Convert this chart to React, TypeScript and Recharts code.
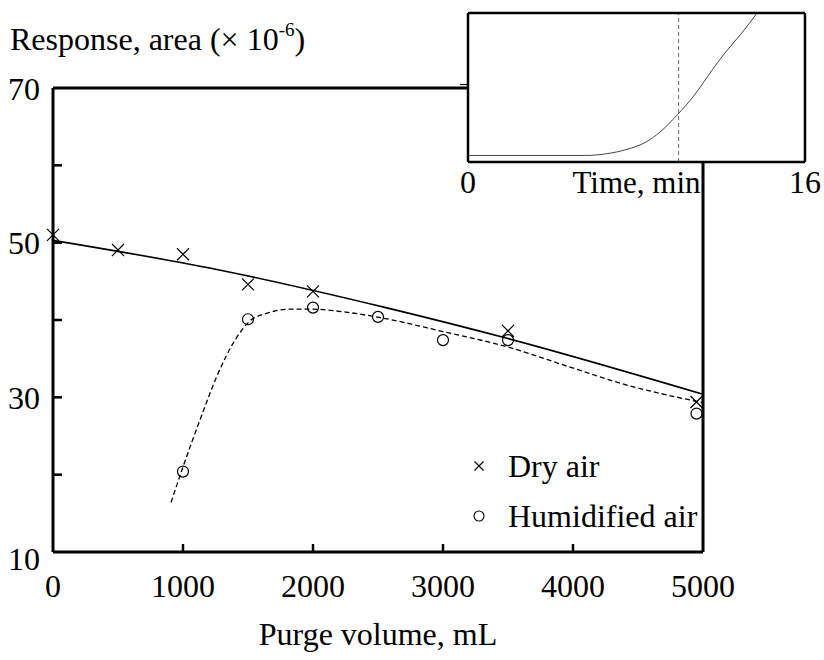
import React from 'react';
import {
  ComposedChart, LineChart, Line, Scatter, XAxis, YAxis, Legend, CartesianGrid, ReferenceLine,
} from 'recharts';

// ---- Main chart data ----
const dryVolume = [0, 500, 1000, 1500, 2000, 3500, 4950];
const dryResponse = [51.0, 49.05, 48.5, 44.6, 43.7, 38.6, 29.4];
const humidVolume = [1000, 1500, 2000, 2500, 3000, 3500, 4950];
const humidResponse = [20.4, 40.1, 41.6, 40.4, 37.4, 37.4, 27.9];
const dryFitVolume = [0, 1270, 2560, 3500, 5000];
const dryFitResponse = [50.3, 46.5, 41.6, 37.6, 30.4];
const humidFitVolume = [908, 1000, 1140, 1270, 1400, 1510, 1650, 1830, 2000, 2160, 2520, 3000, 3500, 3960, 4370, 5000];
const humidFitResponse = [16.4, 21.0, 27.5, 33.1, 37.4, 39.8, 40.9, 41.4, 41.4, 41.2, 40.3, 38.5, 36.5, 34.0, 31.8, 29.3];
const xTicks = [0, 1000, 2000, 3000, 4000, 5000];
const yTicks = [10, 20, 30, 40, 50, 60, 70];
const yTickLabels = [10, 30, 50, 70];

// ---- Inset data ----
const insetTime = [0, 5.6, 6.6, 7.5, 8.5, 9.1, 9.94, 10.7, 11.6, 12.2, 13.0, 13.7];
const insetSignal = [4.4, 4.4, 5.6, 8.3, 13.8, 19.9, 31.7, 44.0, 61.9, 73.2, 86.6, 99.5];
const insetTicks = [0, 16];
const insetMarkTime = 10;
const insetYTick = [52];

const dryData = dryVolume.map((x, i) => ({ x, y: dryResponse[i] }));
const humidData = humidVolume.map((x, i) => ({ x, y: humidResponse[i] }));
const dryFitData = dryFitVolume.map((x, i) => ({ x, y: dryFitResponse[i] }));
const humidFitData = humidFitVolume.map((x, i) => ({ x, y: humidFitResponse[i] }));
const insetData = insetTime.map((x, i) => ({ x, y: insetSignal[i] }));

const FONT = '"Liberation Serif", "Times New Roman", serif';
const FS = 32;

function YTick(props: any) {
  const { x, y, payload } = props;
  const v = payload.value;
  const showLine = v !== 10 && v !== 70;
  const showLabel = yTickLabels.includes(v);
  return (
    <g>
      {showLine && <line x1={x} x2={x + 9} y1={y} y2={y} stroke="#000" strokeWidth={2.5} />}
      {showLabel && (
        <text x={x - 13} y={y + (v === 10 ? 6 : 0)} dy="0.36em" textAnchor="end" fontFamily={FONT} fontSize={FS} fill="#000">
          {v}
        </text>
      )}
    </g>
  );
}

function XTick(props: any) {
  const { x, y, payload } = props;
  const v = payload.value;
  const showLine = v !== 0 && v !== 5000;
  return (
    <g>
      {showLine && <line x1={x} x2={x} y1={y} y2={y - 8} stroke="#000" strokeWidth={2.5} />}
      <text x={x} y={y + 45} textAnchor="middle" fontFamily={FONT} fontSize={FS} fill="#000">{v}</text>
    </g>
  );
}

function InsetXTick(props: any) {
  const { x, y, payload } = props;
  return (
    <text x={x} y={y + 31} textAnchor="middle" fontFamily={FONT} fontSize={FS} fill="#000">{payload.value}</text>
  );
}

function EmptyTick() {
  return <g />;
}

function CrossShape(props: any) {
  const { cx, cy } = props;
  const s = 6;
  return (
    <path d={`M${cx - s},${cy - s}L${cx + s},${cy + s}M${cx - s},${cy + s}L${cx + s},${cy - s}`} stroke="#000" strokeWidth={1.2} fill="none" />
  );
}

function CircleShape(props: any) {
  const { cx, cy } = props;
  return <circle cx={cx} cy={cy} r={5.5} stroke="#000" strokeWidth={1.2} fill="none" />;
}

function YTitle() {
  return (
    <text x={10} y={50} fontFamily={FONT} fontSize={FS} fill="#000">
      Response, area (× 10
      <tspan dy={-14} fontSize={19}>-6</tspan>
      <tspan dy={14}>)</tspan>
    </text>
  );
}

function LegendContent() {
  const row: React.CSSProperties = { display: 'flex', alignItems: 'center', height: 50 };
  const txt: React.CSSProperties = { fontFamily: FONT, fontSize: FS, color: '#000', whiteSpace: 'nowrap' };
  return (
    <div>
      <div style={row}>
        <svg width={43} height={50}>
          <path d="M9.5,20.5L18.5,29.5M9.5,29.5L18.5,20.5" stroke="#000" strokeWidth={1.1} fill="none" />
        </svg>
        <span style={txt}>Dry air</span>
      </div>
      <div style={row}>
        <svg width={43} height={50}>
          <circle cx={14} cy={25} r={5} stroke="#000" strokeWidth={1.1} fill="none" />
        </svg>
        <span style={txt}>Humidified air</span>
      </div>
    </div>
  );
}

export default function App() {
  return (
    <div style={{ position: 'absolute', left: 0, top: 0, width: 824, height: 660, background: '#fff' }}>
      <div style={{ position: 'absolute', left: 0, top: 0 }}>
        <ComposedChart width={824} height={660} margin={{ top: 87, right: 120, bottom: 0, left: 0 }}>
          <XAxis
            dataKey="x"
            type="number"
            domain={[0, 5000]}
            ticks={xTicks}
            height={108}
            tickSize={0}
            tickMargin={0}
            tickLine={false}
            axisLine={{ stroke: '#000', strokeWidth: 3 }}
            tick={<XTick />}
            interval={0}
            label={{ value: 'Purge volume, mL', position: 'insideBottom', offset: 15, fontFamily: FONT, fontSize: FS, fill: '#000' }}
          />
          <XAxis
            xAxisId="top"
            orientation="top"
            type="number"
            domain={[0, 5000]}
            height={1}
            tick={false}
            tickLine={false}
            axisLine={{ stroke: '#000', strokeWidth: 3 }}
          />
          <YAxis
            dataKey="y"
            type="number"
            domain={[10, 70]}
            ticks={yTicks}
            width={53}
            tickSize={0}
            tickMargin={0}
            tickLine={false}
            axisLine={{ stroke: '#000', strokeWidth: 3 }}
            tick={<YTick />}
            interval={0}
            label={YTitle}
          />
          <YAxis
            yAxisId="right"
            orientation="right"
            type="number"
            domain={[10, 70]}
            width={1}
            tick={false}
            tickLine={false}
            axisLine={{ stroke: '#000', strokeWidth: 3 }}
          />
          <Line data={dryFitData} dataKey="y" type="monotone" stroke="#000" strokeWidth={1.6} dot={false} activeDot={false} isAnimationActive={false} />
          <Line data={humidFitData} dataKey="y" type="monotone" stroke="#000" strokeWidth={1.3} strokeDasharray="5 3" dot={false} activeDot={false} isAnimationActive={false} />
          <Scatter data={dryData} dataKey="y" shape={<CrossShape />} isAnimationActive={false} />
          <Scatter data={humidData} dataKey="y" shape={<CircleShape />} isAnimationActive={false} />
          <Legend
            layout="vertical"
            align="center"
            verticalAlign="middle"
            content={<LegendContent />}
            wrapperStyle={{ position: 'absolute', left: 465, top: 441, width: 260, height: 100 }}
          />
        </ComposedChart>
      </div>
      <div style={{ position: 'absolute', left: 460, top: 0 }}>
        <LineChart width={364} height={210} margin={{ top: 12, right: 18, bottom: 0, left: 0 }}>
          <CartesianGrid fill="#fff" horizontal={false} vertical={false} />
          <XAxis
            dataKey="x"
            type="number"
            domain={[0, 16]}
            ticks={insetTicks}
            height={48}
            tickSize={0}
            tickMargin={0}
            tickLine={false}
            axisLine={{ stroke: '#000', strokeWidth: 2.5 }}
            tick={<InsetXTick />}
            interval={0}
            label={{ value: 'Time, min', position: 'insideBottom', offset: 17, fontFamily: FONT, fontSize: 31, fill: '#000' }}
          />
          <XAxis
            xAxisId="top"
            orientation="top"
            type="number"
            domain={[0, 16]}
            height={1}
            tick={false}
            tickLine={false}
            axisLine={{ stroke: '#000', strokeWidth: 2.5 }}
          />
          <YAxis
            dataKey="y"
            type="number"
            domain={[0, 100]}
            ticks={insetYTick}
            width={8}
            tickSize={8}
            tickMargin={0}
            tickLine={{ stroke: '#000', strokeWidth: 1.2 }}
            axisLine={{ stroke: '#000', strokeWidth: 2.5 }}
            tick={<EmptyTick />}
            allowDataOverflow
          />
          <YAxis
            yAxisId="right"
            orientation="right"
            type="number"
            domain={[0, 100]}
            width={1}
            tick={false}
            tickLine={false}
            axisLine={{ stroke: '#000', strokeWidth: 2.5 }}
          />
          <ReferenceLine x={insetMarkTime} stroke="#666" strokeWidth={1} strokeDasharray="4 3" />
          <Line data={insetData} dataKey="y" type="monotone" stroke="#444" strokeWidth={1} dot={false} activeDot={false} isAnimationActive={false} />
        </LineChart>
      </div>
    </div>
  );
}
